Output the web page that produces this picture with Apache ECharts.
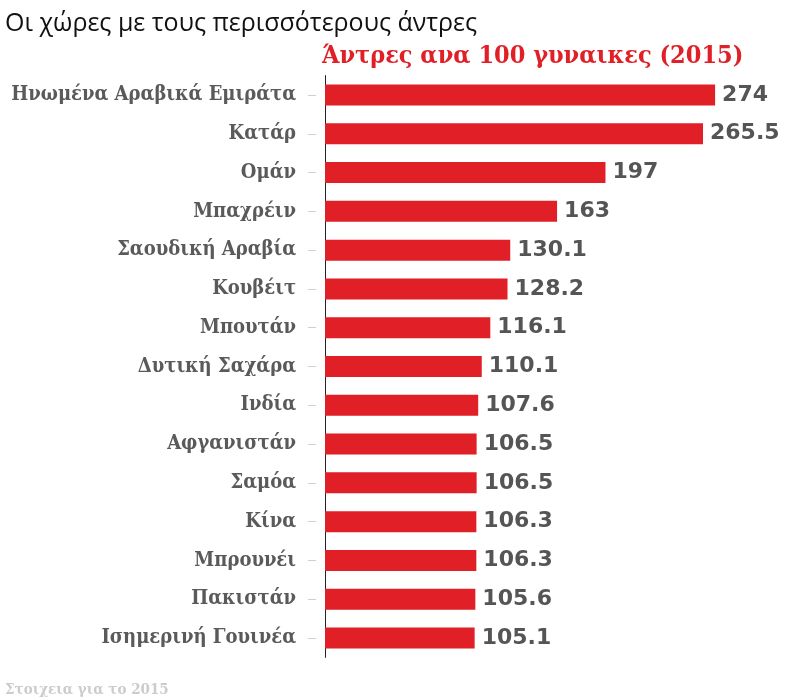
<!DOCTYPE html>
<html>
<head>
<meta charset="utf-8">
<script src="https://cdn.jsdelivr.net/npm/echarts@6/dist/echarts.min.js"></script>
<style>
html,body{margin:0;padding:0;background:#fff;}
#chart{width:793px;height:700px;}
</style>
</head>
<body>
<div id="chart"></div>
<script>
const titleText = 'Οι χώρες με τους περισσότερους άντρες';
const subtitleText = 'Άντρες ανα 100 γυναικες (2015)';
const footerText = 'Στοιχεια για το 2015';
const countries = ['Ηνωμένα Αραβικά Εμιράτα','Κατάρ','Ομάν','Μπαχρέιν','Σαουδική Αραβία','Κουβέιτ','Μπουτάν','Δυτική Σαχάρα','Ινδία','Αφγανιστάν','Σαμόα','Κίνα','Μπρουνέι','Πακιστάν','Ισημερινή Γουινέα'];
const menPer100Women = [274,265.5,197,163,130.1,128.2,116.1,110.1,107.6,106.5,106.5,106.3,106.3,105.6,105.1];

const chart = echarts.init(document.getElementById('chart'));
const labelFont = '"DejaVu Serif Condensed", "DejaVu Serif", serif';
chart.setOption({
  backgroundColor: '#ffffff',
  animation: false,
  title: [
    {text: titleText, left: 0, top: 6, textStyle: {fontFamily: '"Open Sans", sans-serif', fontWeight: 'normal', fontSize: 25, color: '#111'}},
    {text: subtitleText, left: 317, top: 39, textStyle: {fontFamily: labelFont, fontWeight: 'bold', fontSize: 25, color: '#e01f27'}},
    {text: footerText, left: 0, top: 678, textStyle: {fontFamily: labelFont, fontWeight: 'bold', fontSize: 15, color: '#cccccc'}}
  ],
  grid: {left: 325, top: 75.6, width: 420, height: 581.8, containLabel: false, outerBoundsMode: 'none'},
  xAxis: {type: 'value', min: 0, max: 295, show: false},
  yAxis: [
    {
      type: 'category', data: countries, inverse: true,
      axisLine: {show: true, lineStyle: {color: '#222', width: 1}},
      axisTick: {show: false},
      axisLabel: {margin: 29, fontFamily: labelFont, fontWeight: 'bold', fontSize: 20, color: '#5a5a5a'}
    },
    {
      type: 'category', data: countries, inverse: true, position: 'left', offset: 9,
      axisLine: {show: false},
      axisTick: {show: true, alignWithLabel: true, length: 8, lineStyle: {color: '#d0d0d0', width: 1}},
      axisLabel: {show: false}
    }
  ],
  series: [{
    type: 'bar', yAxisIndex: 0, data: menPer100Women, barWidth: 21,
    itemStyle: {color: '#e01f27'},
    label: {show: true, position: 'right', distance: 7, fontFamily: '"DejaVu Sans", sans-serif', fontWeight: 'bold', fontSize: 22, color: '#555'}
  }]
});
</script>
</body>
</html>
